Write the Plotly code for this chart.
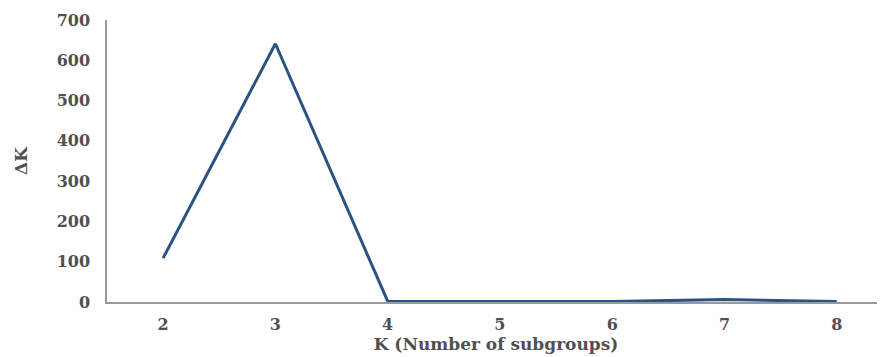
import plotly.graph_objects as go

k_values = [2, 3, 4, 5, 6, 7, 8]
delta_k = [109, 641, 2, 1, 1, 6, 1]
y_ticks = [0, 100, 200, 300, 400, 500, 600, 700]

font_family = "DejaVu Serif"
text_color = "#505050"

fig = go.Figure()
fig.add_trace(go.Scatter(
    x=k_values, y=delta_k, mode="lines",
    line=dict(color="#2b5382", width=3),
    showlegend=False, hoverinfo="skip",
))

# the page body has an 8px margin, so the figure is sized to fit the window
fig.update_layout(
    width=877, height=349,
    margin=dict(l=99, r=0, t=12, b=55),
    paper_bgcolor="white", plot_bgcolor="white",
    font=dict(family=font_family, color=text_color, size=16),
    xaxis=dict(
        range=[1.5, 8.43], tickvals=k_values, ticktext=[str(k) for k in k_values],
        showgrid=False, zeroline=False,
        showline=True, linecolor="#9a9a9a", linewidth=1.5,
        ticks="", ticklabelstandoff=7,
        tickfont=dict(family=font_family, size=16, color=text_color, weight="bold"),
        title=dict(text="<b>K (Number of subgroups)</b>", standoff=4,
                   font=dict(family=font_family, size=17, color=text_color)),
    ),
    yaxis=dict(
        range=[0, 700], tickvals=y_ticks, ticktext=[str(v) for v in y_ticks],
        showgrid=False, zeroline=False,
        showline=True, linecolor="#9a9a9a", linewidth=1.5,
        ticks="", ticklabelstandoff=12,
        tickfont=dict(family=font_family, size=16, color=text_color, weight="bold"),
        title=dict(text="<b>ΔK</b>", standoff=25,
                   font=dict(family=font_family, size=17, color=text_color)),
    ),
)

fig.write_html("out.html")
